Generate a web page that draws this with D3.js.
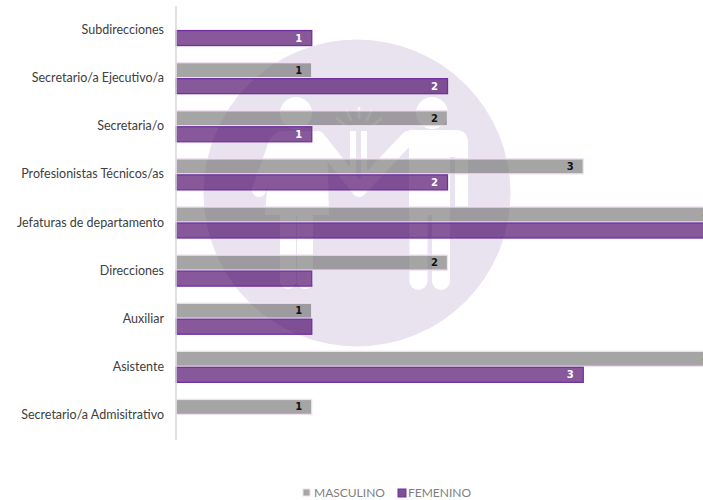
<!DOCTYPE html>
<html>
<head>
<meta charset="utf-8">
<script src="https://cdn.jsdelivr.net/npm/d3@7"></script>
<style>
  html, body { margin: 0; padding: 0; background: #fff; }
  svg { display: block; font-family: Lato, "Open Sans", sans-serif; }
</style>
</head>
<body>
<div id="chart"></div>
<script>
var categories = ["Subdirecciones", "Secretario/a Ejecutivo/a", "Secretaria/o", "Profesionistas Técnicos/as",
  "Jefaturas de departamento", "Direcciones", "Auxiliar", "Asistente", "Secretario/a Admisitrativo"];
var seriesNames = ["MASCULINO", "FEMENINO"];
var masculino = [null, 1, 2, 3, 4, 2, 1, 4, 1];
var femenino = [1, 2, 1, 2, 4, 1, 1, 3, null];
// some labels are missing in the original chart
var femeninoLabels = [1, 2, 1, 2, null, null, null, 3, null];

var width = 703, height = 500;

var svg = d3.select("#chart").append("svg")
  .attr("width", width)
  .attr("height", height);

// Watermark behind the bars
var wm = svg.append("g").attr("class", "watermark");
var wmBack = "#e9e3ef";
wm.append("circle").attr("cx", 357).attr("cy", 193).attr("r", 153.5).attr("fill", wmBack);

// heads
wm.append("circle").attr("cx", 296).attr("cy", 113).attr("r", 16).attr("fill", "#fff");
wm.append("circle").attr("cx", 432).attr("cy", 113).attr("r", 16).attr("fill", "#fff");

// woman: dress, legs and arms
wm.append("path").attr("fill", "#fff")
  .attr("d", "M281,131 L312,131 Q322,131 327,140 L329,215 L265,215 L270,150 Q273,131 281,131 Z");
wm.append("path").attr("fill", "none").attr("stroke", "#fff").attr("stroke-width", 14)
  .attr("stroke-linecap", "round").attr("stroke-linejoin", "round")
  .attr("d", "M276,142 L259,190 M318,138 L359,190 M408,138 L359,190");
wm.selectAll(".leg").data([288, 305, 418.5, 441]).enter().append("line")
  .attr("class", "leg")
  .attr("x1", function(d) { return d; }).attr("x2", function(d) { return d; })
  .attr("y1", 200).attr("y2", 281)
  .attr("stroke", "#fff")
  .attr("stroke-width", function(d) { return d > 400 ? 18 : 16; })
  .attr("stroke-linecap", "round");

// man: torso and arm
wm.append("path").attr("fill", "#fff")
  .attr("d", "M409,130 L456,130 Q468,130 468,144 L468,207 L455,207 L455,157 L450,157 L450,215 L409,215 Z");

// centre strips and rays
wm.selectAll(".strip").data([353, 364]).enter().append("line")
  .attr("class", "strip")
  .attr("x1", function(d) { return d; }).attr("x2", function(d) { return d; })
  .attr("y1", 131).attr("y2", 180)
  .attr("stroke", "#fff").attr("stroke-width", 6);
wm.selectAll(".ray").data([-50, -25, 0, 25, 50]).enter().append("line")
  .attr("class", "ray")
  .attr("x1", 0).attr("x2", 0).attr("y1", -30).attr("y2", -18)
  .attr("transform", function(d) { return "translate(359,137) rotate(" + d + ")"; })
  .attr("stroke", "#fff").attr("stroke-width", 2.5);

// Scales
var x = d3.scaleLinear().domain([0, 4]).range([176, 719]);
var y0 = d3.scaleBand().domain(categories).range([6, 439]).paddingInner(0.335).paddingOuter(0.1675);
var y1 = d3.scaleBand().domain(seriesNames).range([0, y0.bandwidth()]);
var color = d3.scaleOrdinal().domain(seriesNames).range(["#757575", "#460064"]);
var border = d3.scaleOrdinal().domain(seriesNames).range(["#f0e0f2", "#7030a0"]);
var labelColor = d3.scaleOrdinal().domain(seriesNames).range(["#111111", "#ffffff"]);

// Long format for the bars
var rows = [];
categories.forEach(function(c, i) {
  rows.push({cat: c, name: seriesNames[0], value: masculino[i], label: masculino[i]});
  rows.push({cat: c, name: seriesNames[1], value: femenino[i], label: femeninoLabels[i]});
});
rows = rows.filter(function(d) { return d.value !== null; });

// Draw the bars
svg.selectAll(".bar")
  .data(rows)
  .enter()
  .append("rect")
    .attr("class", "bar")
    .attr("x", x(0))
    .attr("y", function(d) { return y0(d.cat) + y1(d.name) + 0.5; })
    .attr("width", function(d) { return x(d.value) - x(0); })
    .attr("height", y1.bandwidth() - 1)
    .attr("fill", function(d) { return color(d.name); })
    .attr("fill-opacity", 0.65)
    .attr("stroke", function(d) { return border(d.name); })
    .attr("stroke-width", 1.3);

// Value labels
svg.selectAll(".value")
  .data(rows.filter(function(d) { return d.label !== null; }))
  .enter()
  .append("text")
    .attr("class", "value")
    .attr("x", function(d) { return x(d.value) - 13; })
    .attr("y", function(d) { return y0(d.cat) + y1(d.name) + y1.bandwidth() / 2; })
    .attr("dy", "0.35em")
    .attr("text-anchor", "middle")
    .style("font-family", "'DejaVu Sans', sans-serif")
    .style("font-size", "10px")
    .style("font-weight", "bold")
    .style("fill", function(d) { return labelColor(d.name); })
    .text(function(d) { return d.label; });

// Category axis
var axis = svg.append("g")
  .attr("transform", "translate(" + x(0) + ",0)")
  .call(d3.axisLeft(y0).tickSize(0).tickPadding(12));
axis.select(".domain").attr("stroke", "#d9d9d9").attr("stroke-width", 1.5).attr("d", "M0,6V440");
axis.selectAll("text")
  .style("font-family", "Lato, sans-serif")
  .style("font-size", "12.5px")
  .style("fill", "#404040");

// Legend
var legend = svg.selectAll(".legend")
  .data(seriesNames)
  .enter()
  .append("g")
    .attr("class", "legend")
    .attr("transform", function(d, i) { return "translate(" + [303, 398][i] + ",488)"; });
legend.append("rect")
  .attr("width", function(d, i) { return [7, 8][i]; })
  .attr("height", function(d, i) { return [7, 8][i]; })
  .attr("y", 1)
  .attr("fill", function(d) { return d === seriesNames[0] ? "#a6a6a6" : "#7f4f98"; })
  .attr("stroke", function(d) { return border(d); });
legend.append("text")
  .attr("x", function(d, i) { return [11, 10][i]; })
  .attr("y", 4.5)
  .attr("dy", "0.35em")
  .style("font-size", "12px")
  .style("fill", "#7f7f7f")
  .text(function(d) { return d; });
</script>
</body>
</html>
